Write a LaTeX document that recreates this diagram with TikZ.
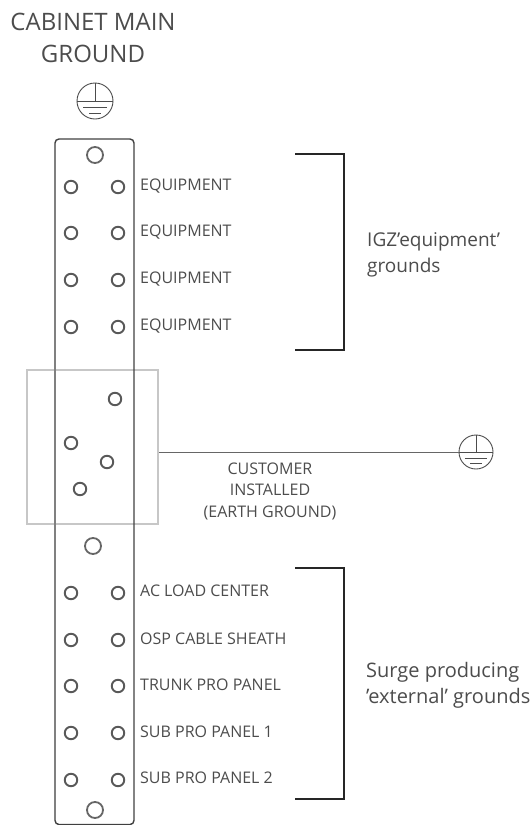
\documentclass[tikz,border=0pt]{standalone}
\usepackage{fontspec}
\setmainfont{Open Sans}
\definecolor{inkgray}{gray}{0.3}
\definecolor{boxgray}{gray}{0.78}
\newcommand{\gndlines}[2]{%
  \draw[gndline] (#1.west) -- (#1.east);
  \draw[gndline] (#1.north) -- (#1.center);
  \draw[gndline] ([xshift=-#2*0.65pt,yshift=-#2*0.38pt]#1.center) -- ([xshift=#2*0.65pt,yshift=-#2*0.38pt]#1.center);
  \draw[gndline] ([xshift=-#2*0.33pt,yshift=-#2*0.68pt]#1.center) -- ([xshift=#2*0.33pt,yshift=-#2*0.68pt]#1.center);
}

\begin{document}
\begin{tikzpicture}
  [x=1pt, y=-1pt,
   hole/.style={circle, draw=black!65, line width=1.9pt, inner sep=0pt, minimum size=12.5pt},
   bighole/.style={circle, draw=black!60, line width=1.8pt, inner sep=0pt, minimum size=16pt},
   gnd/.style={circle, draw=black!70, line width=0.9pt, inner sep=0pt},
   gndline/.style={draw=black!70, line width=0.8pt},
   lbl/.style={text=inkgray, font=\fontsize{16}{18}\selectfont, anchor=west, inner sep=0pt},
   note/.style={text=inkgray, font=\fontsize{19}{26}\selectfont, align=left, anchor=west, inner sep=0pt},
   bracket/.style={draw=black!85, line width=2.4pt}]
  \useasboundingbox (0,0) rectangle (531,825);

  % customer box
  \node[draw=boxgray, line width=2pt, inner sep=0pt, minimum width=131pt, minimum height=154pt] (custbox) at (92.5,447) {};

  % strip
  \draw[draw=black!75, line width=1.4pt, rounded corners=4pt] (55,824.5) rectangle (134,139);
  \draw[draw=black!50, line width=2.6pt] (55,820) -- (55,144);

  % holes
  \node[bighole] (topa) at (95,155) {};
  \node[bighole] (mida) at (93,546) {};
  \node[bighole] (bota) at (95,810) {};
  \foreach \y/\n in {187/a,233/b,280/c,327/d,593/e,640/f,686/g,733/h,780/i} {
    \node[hole] (l\n) at (71,\y) {};
    \node[hole] (r\n) at (118,\y) {};
  }
  \node[hole] (cua) at (115,399) {};
  \node[hole] (cub) at (71,443) {};
  \node[hole] (cuc) at (107,462) {};
  \node[hole] (cud) at (80,489) {};

  % labels
  \foreach \n in {a,b,c,d} {
    \node[lbl] (t\n) at ([xshift=22pt,yshift=1pt]r\n.center) {EQUIPMENT};
  }
  \node[lbl] (te) at ([xshift=22pt,yshift=2pt]re.center) {AC LOAD CENTER};
  \node[lbl] (tf) at ([xshift=22pt,yshift=1pt]rf.center) {OSP CABLE SHEATH};
  \node[lbl] (tg) at ([xshift=22pt,yshift=1pt]rg.center) {TRUNK PRO PANEL};
  \node[lbl] (th) at ([xshift=22pt,yshift=1pt]rh.center) {SUB PRO PANEL 1};
  \node[lbl] (ti) at ([xshift=22pt,yshift=2pt]ri.center) {SUB PRO PANEL 2};

  % titles
  \node[text=inkgray, font=\fontsize{24}{32}\selectfont, align=center, inner sep=0pt] (title) at (93,38) {CABINET MAIN\\GROUND};
  \node[text=inkgray, font=\fontsize{16}{21.5}\selectfont, align=center, inner sep=0pt] (cust) at (270,491) {CUSTOMER\\INSTALLED\\(EARTH GROUND)};
  \node[note] (igz) at (367,255) {IGZ'equipment'\\grounds};
  \node[note, font=\fontsize{20}{26}\selectfont] (surge) at (366,685) {Surge producing\\'external' grounds};

  % grounds
  \node[gnd, minimum size=36pt] (gnda) at (95,101) {};
  \node[gnd, minimum size=34pt] (gndb) at (476,452) {};
  \gndlines{gnda}{18}
  \gndlines{gndb}{17}
  \draw[draw=black!60, line width=1pt] (custbox.east |- gndb.west) -- (gndb.west);

  % brackets
  \draw[bracket] (295,154) -- (344,154) -- (344,350) -- (295,350);
  \draw[bracket] (295,568) -- (344,568) -- (344,799) -- (295,799);
\end{tikzpicture}
\end{document}
